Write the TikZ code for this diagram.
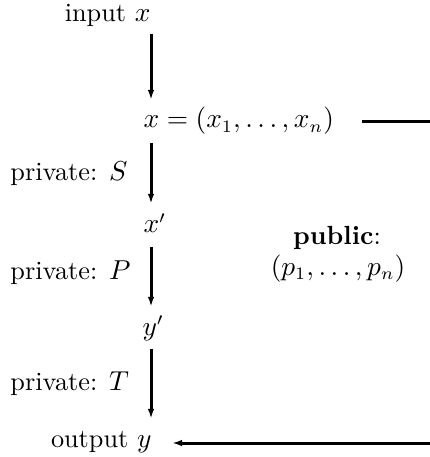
\documentclass[tikz,border=0pt]{standalone}
\usetikzlibrary{arrows.meta}
\begin{document}
\begin{tikzpicture}[x=0.4pt,y=-0.4pt,
  font=\fontsize{10.5}{12.6}\selectfont,
  lbl/.style={inner sep=0pt},
  conn/.style={line width=1.2pt,-{Latex[length=4pt,width=2.6pt]}},
  ln/.style={line width=1.2pt}]
\useasboundingbox (0,0) rectangle (430,457);
\coordinate (ax) at (151,0);
\node[lbl,anchor=base east] (in) at (151,22) {input $x$};
\node[lbl,anchor=base west] (eq) at (143,128) {$x=(x_1,\dots,x_n)$};
\node[lbl,anchor=base west] (xp) at (143,233) {$x'$};
\node[lbl,anchor=base west] (yp) at (142,335) {$y'$};
\node[lbl,anchor=base east] (out) at (152,447) {output $y$};
\node[lbl,anchor=base west] (ps) at (10,181) {private: $S$};
\node[lbl,anchor=base west] (pp) at (10,280) {private: $P$};
\node[lbl,anchor=base west] (pt) at (10,390) {private: $T$};
\node[lbl,anchor=base] (pub) at (337,245) {\textbf{public}:};
\node[lbl,anchor=base] (tup) at (338,275) {$(p_1,\dots,p_n)$};
\coordinate (r1) at (430,123);
\coordinate (r2) at (430,443);
\draw[conn,shorten <=2.4pt,shorten >=2.8pt] (in.south -| ax) -- (eq.north -| ax);
\draw[conn,shorten <=3.2pt,shorten >=3.6pt] (eq.south -| ax) -- (xp.north -| ax);
\draw[conn,shorten <=5.6pt,shorten >=3.2pt] (xp.south -| ax) -- (yp.north -| ax);
\draw[conn,shorten <=3.2pt,shorten >=4.6pt] (yp.south -| ax) -- (out.north -| ax);
\draw[ln,shorten <=11pt] (eq.east) -- (eq.east -| r1);
\draw[conn,shorten >=8pt] (r2) -- (out.east |- r2);
\end{tikzpicture}
\end{document}
